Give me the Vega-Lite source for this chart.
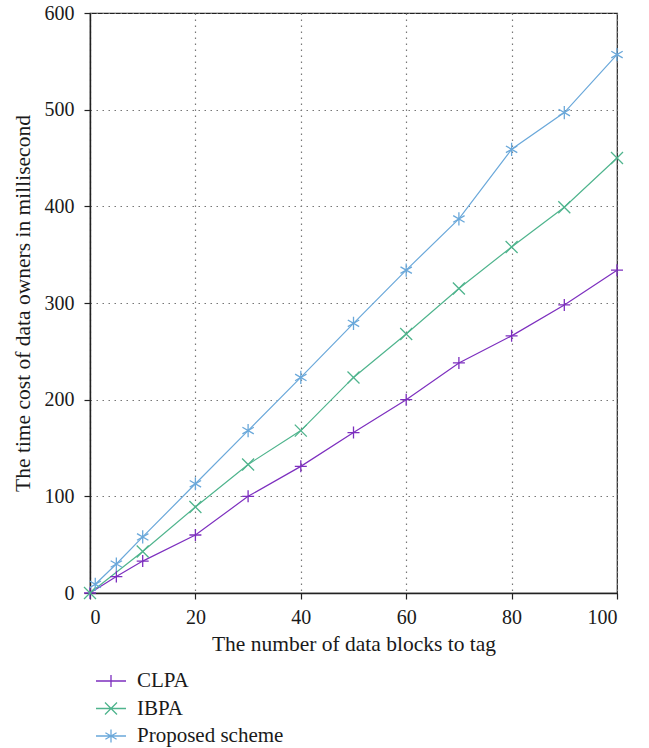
{
  "$schema": "https://vega.github.io/schema/vega-lite/v6.json",
  "width": 527,
  "height": 580,
  "autosize": {"type": "none"},
  "padding": {"left": 90, "top": 13, "right": 32, "bottom": 155},
  "background": "white",
  "config": {
    "font": "Liberation Serif",
    "view": {"stroke": "#222", "strokeWidth": 1.2},
    "axis": {
      "labelFont": "Liberation Serif",
      "titleFont": "Liberation Serif",
      "labelFontSize": 20,
      "titleFontSize": 21.5,
      "titleFontWeight": "normal",
      "labelColor": "#1a1a1a",
      "titleColor": "#1a1a1a",
      "domainColor": "#222",
      "domainWidth": 1.4,
      "tickColor": "#222",
      "tickWidth": 1.2,
      "tickSize": 6,
      "gridColor": "#777",
      "gridDash": [1.5, 4.5],
      "gridWidth": 1.2,
      "gridOpacity": 1
    }
  },
  "data": {
    "values": [
      {"series": "CLPA", "x": 0, "y": 0},
      {"series": "CLPA", "x": 5, "y": 17},
      {"series": "CLPA", "x": 10, "y": 33},
      {"series": "CLPA", "x": 20, "y": 60},
      {"series": "CLPA", "x": 30, "y": 100},
      {"series": "CLPA", "x": 40, "y": 131},
      {"series": "CLPA", "x": 50, "y": 166},
      {"series": "CLPA", "x": 60, "y": 200},
      {"series": "CLPA", "x": 70, "y": 238},
      {"series": "CLPA", "x": 80, "y": 266},
      {"series": "CLPA", "x": 90, "y": 298},
      {"series": "CLPA", "x": 100, "y": 334},
      {"series": "IBPA", "x": 0, "y": 0},
      {"series": "IBPA", "x": 10, "y": 43},
      {"series": "IBPA", "x": 20, "y": 89},
      {"series": "IBPA", "x": 30, "y": 133},
      {"series": "IBPA", "x": 40, "y": 168},
      {"series": "IBPA", "x": 50, "y": 223},
      {"series": "IBPA", "x": 60, "y": 268},
      {"series": "IBPA", "x": 70, "y": 315},
      {"series": "IBPA", "x": 80, "y": 358},
      {"series": "IBPA", "x": 90, "y": 399},
      {"series": "IBPA", "x": 100, "y": 450},
      {"series": "Proposed scheme", "x": 1, "y": 9},
      {"series": "Proposed scheme", "x": 5, "y": 30},
      {"series": "Proposed scheme", "x": 10, "y": 58},
      {"series": "Proposed scheme", "x": 20, "y": 113},
      {"series": "Proposed scheme", "x": 30, "y": 168},
      {"series": "Proposed scheme", "x": 40, "y": 223},
      {"series": "Proposed scheme", "x": 50, "y": 279},
      {"series": "Proposed scheme", "x": 60, "y": 334},
      {"series": "Proposed scheme", "x": 70, "y": 387},
      {"series": "Proposed scheme", "x": 80, "y": 459},
      {"series": "Proposed scheme", "x": 90, "y": 497},
      {"series": "Proposed scheme", "x": 100, "y": 557}
    ]
  },
  "encoding": {
    "x": {
      "field": "x", "type": "quantitative",
      "scale": {"domain": [0, 100], "nice": false, "zero": false},
      "axis": {"values": [0, 20, 40, 60, 80, 100], "title": "The number of data blocks to tag", "labelPadding": 8, "titlePadding": 6, "grid": true}
    },
    "y": {
      "field": "y", "type": "quantitative",
      "scale": {"domain": [0, 600], "nice": false},
      "axis": {"values": [0, 100, 200, 300, 400, 500, 600], "title": "The time cost of data owners in millisecond", "labelPadding": 10, "titlePadding": 10, "grid": true}
    }
  },
  "layer": [
    {
      "mark": {"type": "line", "strokeWidth": 1.2},
      "encoding": {
        "color": {
          "field": "series", "type": "nominal",
          "scale": {"domain": ["CLPA", "IBPA", "Proposed scheme"], "range": ["#7d2fbf", "#4fb48d", "#6aa8da"]},
          "legend": {
            "orient": "none",
            "legendX": 10,
            "legendY": 657,
            "title": null,
            "direction": "vertical",
            "padding": 0,
            "symbolSize": 400,
            "symbolStrokeWidth": 1.3,
            "labelOffset": 15,
            "rowPadding": 6.5,
            "labelFont": "Liberation Serif",
            "labelFontSize": 21,
            "labelColor": "#1a1a1a",
            "encode": {
              "symbols": {
                "update": {
                  "shape": {"signal": "datum.value === 'CLPA' ? 'M-1.5,0L1.5,0M0,-0.6L0,0.6' : datum.value === 'IBPA' ? 'M-1.5,0L1.5,0M-0.6,-0.6L0.6,0.6M-0.6,0.6L0.6,-0.6' : 'M-1.5,0L1.5,0M0,-0.65L0,0.65M-0.56,-0.33L0.56,0.33M-0.56,0.33L0.56,-0.33'"},
                  "fill": {"value": "transparent"},
                  "strokeWidth": {"value": 1.3}
                }
              }
            }
          }
        }
      }
    },
    {
      "transform": [{"filter": "datum.series === 'CLPA'"}],
      "mark": {"type": "point", "filled": false, "strokeWidth": 1.3, "opacity": 1, "size": 144, "color": "#7d2fbf", "shape": "M-1,0L1,0M0,-1L0,1"}
    },
    {
      "transform": [{"filter": "datum.series === 'IBPA'"}],
      "mark": {"type": "point", "filled": false, "strokeWidth": 1.3, "opacity": 1, "size": 144, "color": "#4fb48d", "shape": "M-1,-1L1,1M-1,1L1,-1"}
    },
    {
      "transform": [{"filter": "datum.series === 'Proposed scheme'"}],
      "mark": {"type": "point", "filled": false, "strokeWidth": 1.3, "opacity": 1, "size": 144, "color": "#6aa8da", "shape": "M0,-1.1L0,1.1M-0.95,-0.55L0.95,0.55M-0.95,0.55L0.95,-0.55"}
    }
  ]
}
